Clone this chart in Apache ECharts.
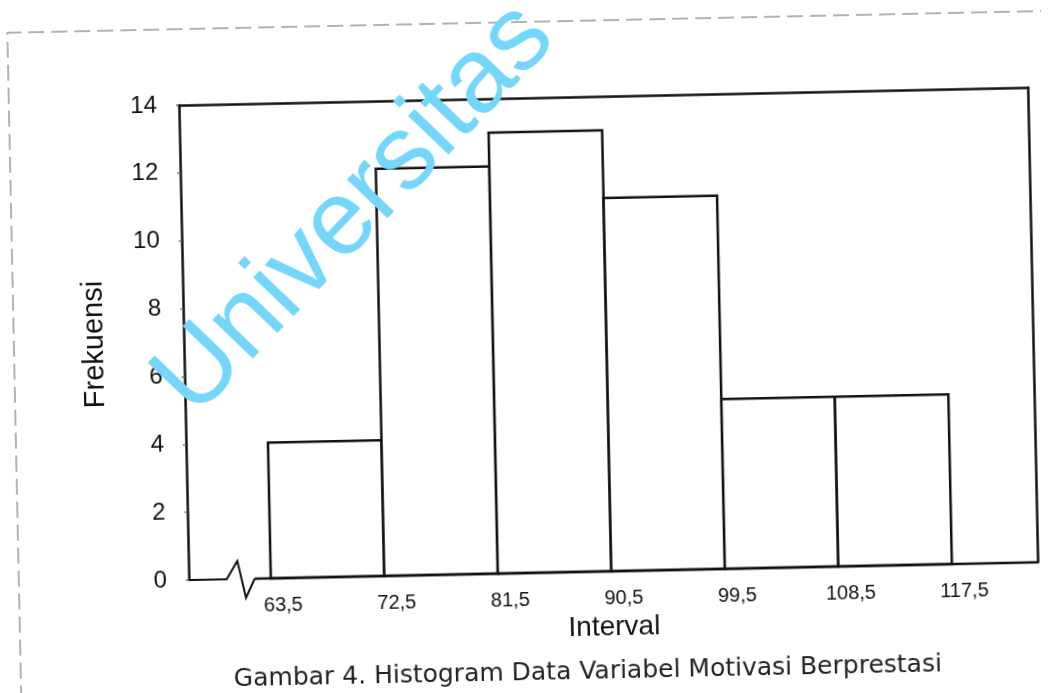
<!DOCTYPE html>
<html>
<head>
<meta charset="utf-8">
<script src="https://cdn.jsdelivr.net/npm/echarts@6/dist/echarts.min.js"></script>
<style>
html,body{margin:0;padding:0;background:#fff;overflow:hidden;}
#wrap{width:1048px;height:693px;transform:rotate(-1.2deg);transform-origin:524px 346px;background:#fff;}
#chart{width:1048px;height:693px;}
</style>
</head>
<body>
<div id="wrap"><div id="chart"></div></div>
<script>
const binEdges = [63.5, 72.5, 81.5, 90.5, 99.5, 108.5, 117.5];
const frequencies = [4, 12, 13, 11, 5, 5];
const xMin = 57, xMax = 124.3;
const yMin = 0, yMax = 14, yStep = 2;
const axisBreakAt = 60;
const xTitle = 'Interval';
const yTitle = 'Frekuensi';
const caption = 'Gambar 4. Histogram Data Variabel Motivasi Berprestasi';
const watermark = 'Universitas';

const barData = frequencies.map((f, i) => [binEdges[i], binEdges[i + 1], f]);
const lineCol = '#111';

const chart = echarts.init(document.getElementById('chart'), null, {renderer: 'canvas'});
chart.setOption({
  animation: false,
  backgroundColor: '#fff',
  grid: {left: 184, top: 98, width: 849, height: 475, containLabel: false},
  xAxis: [{
    type: 'value', min: xMin, max: xMax, position: 'bottom',
    axisLine: {show: false, onZero: false}, axisTick: {show: false}, splitLine: {show: false},
    axisLabel: {
      customValues: binEdges, margin: 17, fontSize: 20, color: '#111',
      fontFamily: 'Liberation Sans, Arial, sans-serif', padding: [0, 0, 0, 24],
      formatter: v => v.toFixed(1).replace('.', ',')
    },
    name: xTitle, nameLocation: 'middle', nameGap: 37,
    nameTextStyle: {fontSize: 28, color: '#111', fontFamily: 'Liberation Sans, Arial, sans-serif'}
  }, {
    type: 'value', min: xMin, max: xMax, position: 'top',
    axisLine: {show: true, onZero: false, lineStyle: {color: lineCol, width: 2.5}},
    axisTick: {show: false}, axisLabel: {show: false}, splitLine: {show: false}
  }],
  yAxis: [{
    type: 'value', min: yMin, max: yMax, interval: yStep, position: 'left',
    axisLine: {show: true, onZero: false, lineStyle: {color: lineCol, width: 2.5}},
    axisTick: {show: true, length: 3, lineStyle: {color: '#777', width: 1.5}},
    splitLine: {show: false},
    axisLabel: {fontSize: 24, color: '#111', margin: 22, fontFamily: 'Liberation Sans, Arial, sans-serif'},
    name: yTitle, nameLocation: 'middle', nameGap: 75, nameRotate: 90,
    nameTextStyle: {fontSize: 29, color: '#111', fontFamily: 'Liberation Sans, Arial, sans-serif'}
  }, {
    type: 'value', min: yMin, max: yMax, interval: yStep, position: 'right',
    axisLine: {show: true, onZero: false, lineStyle: {color: lineCol, width: 2.5}},
    axisTick: {show: false}, axisLabel: {show: false}, splitLine: {show: false}
  }],
  series: [{
    type: 'custom',
    xAxisIndex: 0, yAxisIndex: 0,
    data: barData,
    renderItem: function (params, api) {
      const p0 = api.coord([api.value(0), 0]);
      const p1 = api.coord([api.value(1), api.value(2)]);
      return {
        type: 'rect',
        shape: {x: p0[0], y: p1[1], width: p1[0] - p0[0], height: p0[1] - p1[1]},
        style: {fill: '#fff', stroke: lineCol, lineWidth: 2.5}
      };
    },
    z: 2
  }, {
    type: 'custom',
    xAxisIndex: 0, yAxisIndex: 0,
    data: [[axisBreakAt, 0]],
    clip: false,
    renderItem: function (params, api) {
      const cs = params.coordSys;
      const b = api.coord([api.value(0), api.value(1)]);
      const y0 = b[1];
      return {
        type: 'group',
        children: [{
          type: 'polyline',
          shape: {points: [[cs.x, y0], [b[0], y0], [b[0] + 11, y0 - 18], [b[0] + 19, y0 + 19], [b[0] + 28, y0]]},
          style: {fill: null, stroke: lineCol, lineWidth: 2}
        }, {
          type: 'line',
          shape: {x1: b[0] + 28, y1: y0, x2: cs.x + cs.width, y2: y0},
          style: {stroke: lineCol, lineWidth: 2.5}
        }]
      };
    },
    z: 3
  }],
  graphic: [{
    type: 'polyline',
    shape: {points: [[14, 760], [14, 22], [1120, 22]]},
    style: {fill: null, stroke: '#999', lineWidth: 1.5, lineDash: [16, 7]},
    z: 1
  }, {
    type: 'text',
    x: 581, y: 673,
    style: {text: caption, font: '25px "DejaVu Sans", Verdana, sans-serif', fill: '#222', align: 'center', verticalAlign: 'middle'},
    z: 10
  }, {
    type: 'text',
    x: 358, y: 206,
    rotation: 45 * Math.PI / 180,
    style: {text: watermark, font: '106px "Liberation Sans", Arial, sans-serif', fill: '#74d6fb', align: 'center', verticalAlign: 'middle'},
    z: 100
  }]
});
</script>
</body>
</html>
